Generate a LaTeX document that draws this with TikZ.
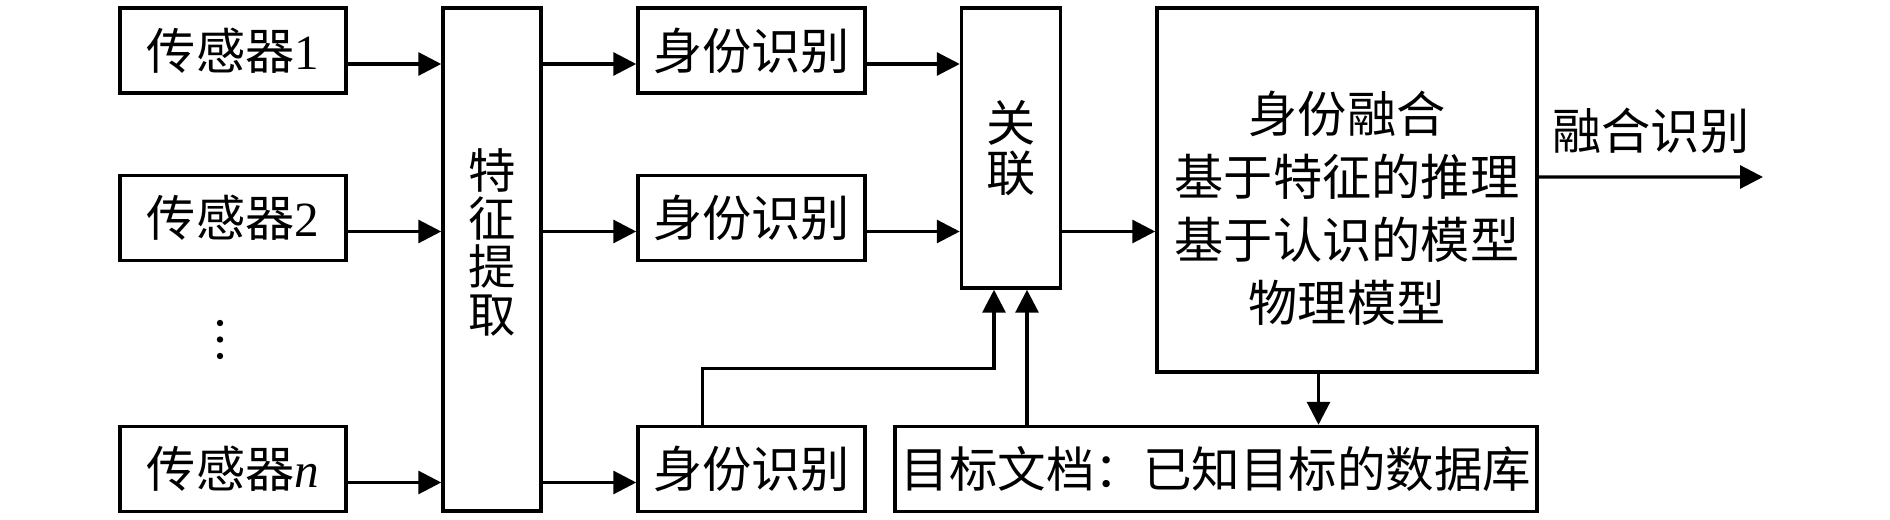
\documentclass[tikz,border=0pt]{standalone}
\usepackage{fontspec}
\setmainfont{Noto Sans CJK SC}
\newfontfamily\tms{Liberation Serif}
\usetikzlibrary{arrows.meta}
\begin{document}
\begin{tikzpicture}[
    box/.style={draw, line width=1pt, inner sep=0pt},
    row/.style={box, minimum width=2.26cm, minimum height=0.85cm},
    arr/.style={line width=0.9pt, -{Triangle[length=6.5pt,width=6.5pt]}},
    font=\fontsize{14}{17}\selectfont]
    \useasboundingbox (0,0) rectangle (18.9,-5.2);
    % sensors
    \node[row] (s1) at (2.33,-0.505) {传感器{\tms 1}};
    \node[row] (s2) at (2.33,-2.18) {传感器{\tms 2}};
    \node[row] (sn) at (2.33,-4.69) {传感器{\tms\itshape n}};
    \foreach \y in {-3.23,-3.395,-3.56}
        \fill (2.20,\y) circle (0.032);
    % feature extraction
    \node[box, minimum width=0.98cm, minimum height=5.03cm,
          label={[align=center, yshift=0.17cm, font=\fontsize{13.5}{13.7}\selectfont]center:特\\征\\提\\取}]
          (feat) at (4.92,-2.595) {};
    % identity
    \node[row, minimum width=2.27cm] (id1) at (7.515,-0.505) {身份识别};
    \node[row, minimum width=2.27cm] (id2) at (7.515,-2.18) {身份识别};
    \node[row, minimum width=2.27cm] (idn) at (7.515,-4.69) {身份识别};
    \node[box, minimum width=0.99cm, minimum height=2.80cm, align=center,
          font=\fontsize{14}{14.2}\selectfont] (assoc) at (10.11,-1.48) {关\\联};
    \node[box, minimum width=3.80cm, minimum height=3.64cm,
          label={[align=center, yshift=-0.18cm, font=\fontsize{14}{17.9}\selectfont]center:身份融合\\基于特征的推理\\基于认识的模型\\物理模型}]
          (fuse) at (13.47,-1.90) {};
    \node[box, minimum width=6.42cm, minimum height=0.85cm, font=\fontsize{13.8}{17}\selectfont]
          (db) at (12.16,-4.69) {目标文档：已知目标的数据库};
    \coordinate (out) at (17.63,-1.77);

    \foreach \k in {1,2,n} {
        \draw[arr] ([yshift=-1.35mm]s\k.east) -- ([yshift=-1.35mm]s\k.east -| feat.west);
        \draw[arr] ([yshift=-1.35mm]s\k.east -| feat.east) -- ([yshift=-1.35mm]id\k.west);
    }
    \draw[arr] ([yshift=-1.35mm]id1.east) -- ([yshift=-1.35mm]id1.east -| assoc.west);
    \draw[arr] ([yshift=-1.35mm]id2.east) -- ([yshift=-1.35mm]id2.east -| assoc.west);
    \draw[arr] ([yshift=-1.35mm]id2.east -| assoc.east) -- ([yshift=-1.35mm]id2.east -| fuse.west);
    \draw[arr] ([yshift=1.3mm]fuse.east) -- (out) node[midway, above, yshift=1mm] {融合识别};
    \draw[arr] ([xshift=-0.285cm]fuse.south) -- ([xshift=-0.285cm]fuse.south |- db.north);
    \draw[arr] ([xshift=-0.49cm]idn.north) -- ++(0,0.56) -| ([xshift=-0.17cm]assoc.south);
    \draw[arr] ([xshift=0.16cm]assoc.south |- db.north) -- ([xshift=0.16cm]assoc.south);
\end{tikzpicture}
\end{document}
